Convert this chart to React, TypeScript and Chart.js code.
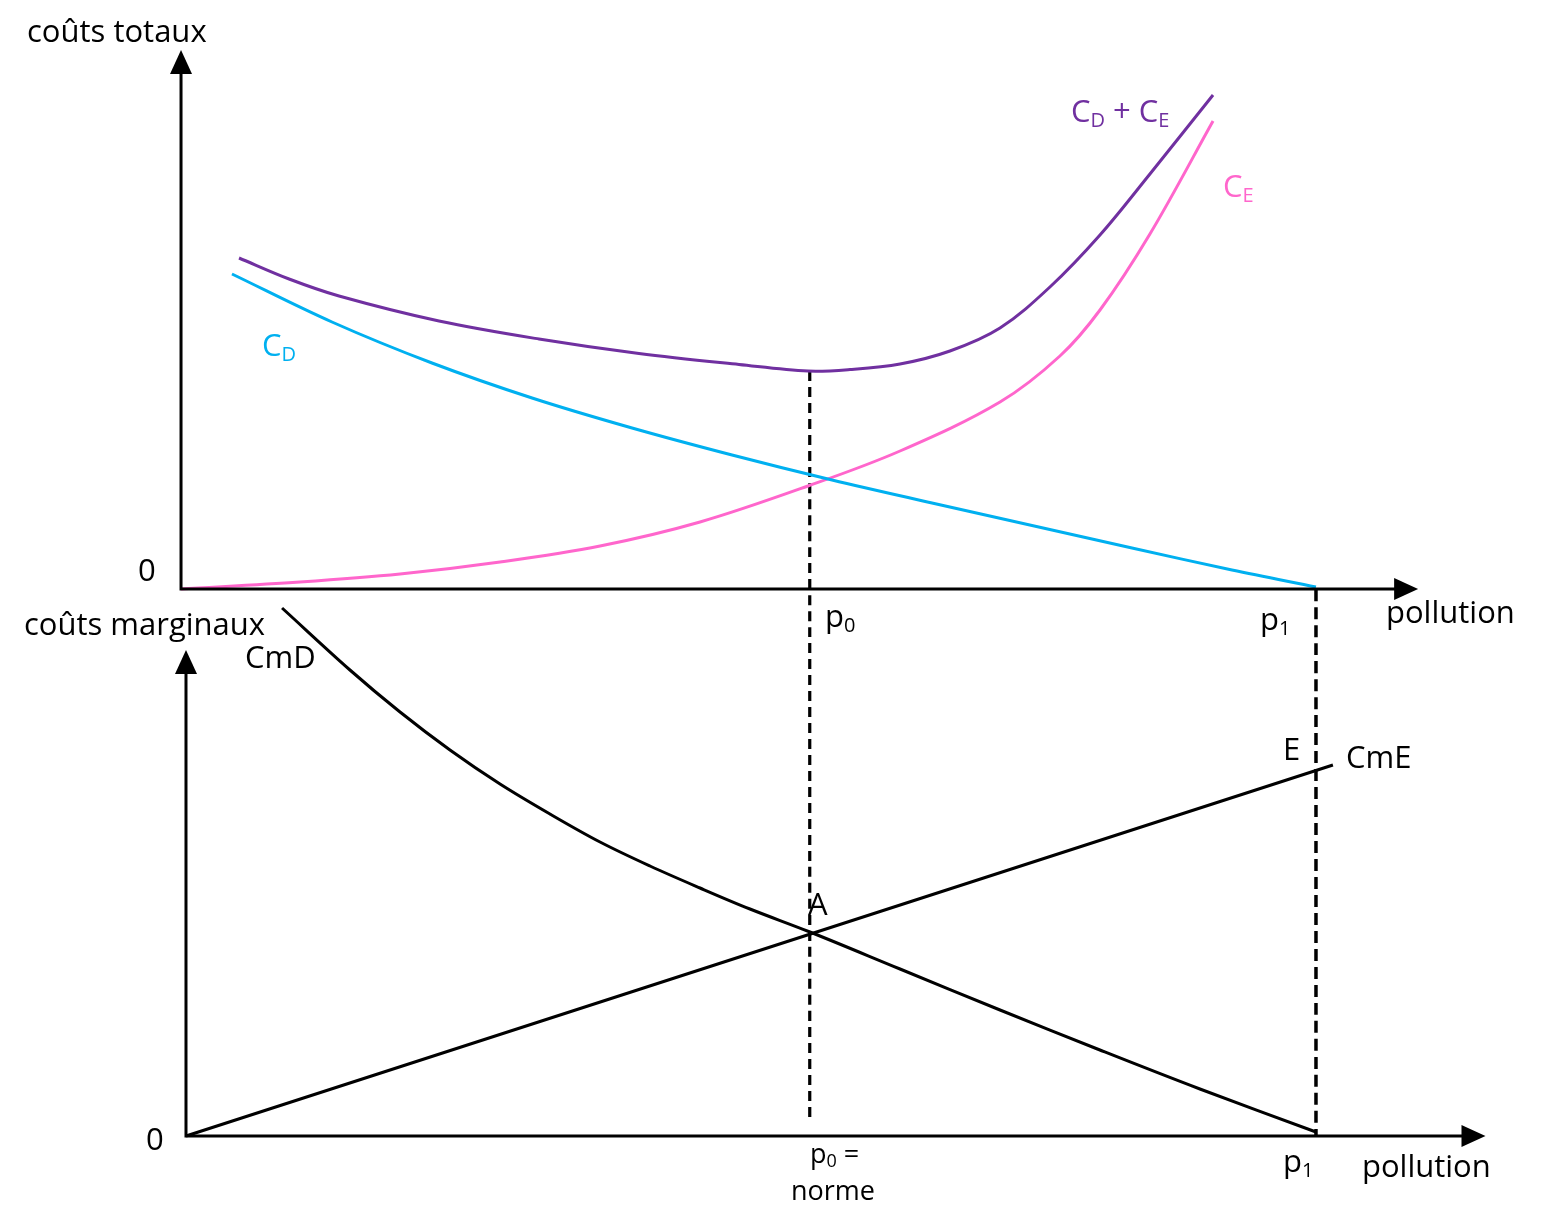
import React, { useEffect, useRef } from "react";
import { Chart, registerables } from "chart.js";

Chart.register(...registerables);

const FONT = '"Open Sans", "Noto Sans", "DejaVu Sans", sans-serif';

// ---------- Top panel: total costs (pollution in units where p1 = 10) ----------
const P0 = 5.52;
const P1 = 10;

const cdX = [0.449, 1.33, 2.211, 3.093, 3.974, 4.855, 5.736, 6.617, 7.498, 8.379, 9.26, 10];
const cdY = [6.3, 5.34, 4.52, 3.82, 3.22, 2.68, 2.18, 1.72, 1.27, 0.82, 0.38, 0.04];

const ceX = [0, 1.048, 1.93, 2.811, 3.692, 4.573, 5.524, 6.335, 7.216, 7.744, 8.097, 8.537, 9.093];
const ceY = [0, 0.14, 0.3, 0.54, 0.86, 1.34, 2.06, 2.76, 3.74, 4.66, 5.58, 7.1, 9.36];

const totX = [0.511, 0.952, 1.392, 2.273, 3.154, 4.035, 4.916, 5.524, 5.894, 6.335, 6.775, 7.216, 7.656, 8.097, 8.537, 9.093];
const totY = [6.62, 6.2, 5.86, 5.36, 5.0, 4.71, 4.49, 4.36, 4.39, 4.5, 4.76, 5.22, 6.04, 7.08, 8.3, 9.88];

// ---------- Bottom panel: marginal costs ----------
const cmeX = [0, 10.15];
const cmeY = [0, 7.42];

const cmdX = [0.85, 1.451, 1.894, 2.336, 2.779, 3.221, 3.664, 4.106, 4.549, 4.991, 5.522, 6.319, 7.204, 8.088, 8.973, 10];
const cmdY = [10.56, 9.32, 8.48, 7.72, 7.04, 6.44, 5.88, 5.4, 4.96, 4.54, 4.08, 3.34, 2.52, 1.72, 0.94, 0.08];

// dashed guides (bottom-panel units; they reach up into the top panel)
const guideP0Y = [15.3, 0.28];
const guideP1Y = [10.94, 0];

const PURPLE = "#7030A0";
const PINK = "#FF66CC";
const BLUE = "#00B0F0";
const BLACK = "#000000";

type Part = [string, boolean];
type Label = { parts: Part[]; x: number; y: number; color: string; size: number };

const topLabels: Label[] = [
  { parts: [["coûts totaux", false]], x: -1.357, y: 10.94, color: BLACK, size: 31 },
  { parts: [["0", false]], x: -0.379, y: 0.16, color: BLACK, size: 31 },
  { parts: [["C", false], ["D", true]], x: 0.714, y: 4.66, color: BLUE, size: 31 },
  { parts: [["C", false], ["D", true], [" + C", false], ["E", true]], x: 7.841, y: 9.34, color: PURPLE, size: 31 },
  { parts: [["C", false], ["E", true]], x: 9.181, y: 7.84, color: PINK, size: 31 },
  { parts: [["p", false], ["0", true]], x: 5.674, y: -0.76, color: BLACK, size: 31 },
  { parts: [["p", false], ["1", true]], x: 9.507, y: -0.82, color: BLACK, size: 31 },
  { parts: [["pollution", false]], x: 10.617, y: -0.68, color: BLACK, size: 31 },
];

const bottomLabels: Label[] = [
  { parts: [["coûts marginaux", false]], x: -1.434, y: 10.02, color: BLACK, size: 31 },
  { parts: [["CmD", false]], x: 0.522, y: 9.36, color: BLACK, size: 31 },
  { parts: [["E", false]], x: 9.708, y: 7.52, color: BLACK, size: 31 },
  { parts: [["CmE", false]], x: 10.265, y: 7.36, color: BLACK, size: 31 },
  { parts: [["A", false]], x: 5.504, y: 4.42, color: BLACK, size: 31 },
  { parts: [["0", false]], x: -0.354, y: -0.28, color: BLACK, size: 31 },
  { parts: [["p", false], ["0", true], [" =", false]], x: 5.522, y: -0.54, color: BLACK, size: 27 },
  { parts: [["norme", false]], x: 5.354, y: -1.28, color: BLACK, size: 27 },
  { parts: [["p", false], ["1", true]], x: 9.708, y: -0.72, color: BLACK, size: 31 },
  { parts: [["pollution", false]], x: 10.407, y: -0.82, color: BLACK, size: 31 },
];

const zip = (xs: number[], ys: number[]) => xs.map((x, i) => ({ x, y: ys[i] }));

function curve(xs: number[], ys: number[], color: string, dash: number[] = [], width = 3) {
  return {
    data: zip(xs, ys),
    borderColor: color,
    borderWidth: width,
    borderDash: dash,
    pointRadius: 0,
    fill: false,
    tension: 0.35,
    borderCapStyle: "butt" as const,
    borderJoinStyle: "round" as const,
  };
}

function makeDiagramPlugin(axes: { xEnd: number; yEnd: number }, labels: Label[]) {
  return {
    id: "diagram",
    afterDatasetsDraw(chart: any) {
      const ctx: CanvasRenderingContext2D = chart.ctx;
      const xs = chart.scales.x;
      const ys = chart.scales.y;
      const ox = xs.getPixelForValue(0);
      const oy = ys.getPixelForValue(0);
      const tx = xs.getPixelForValue(axes.xEnd);
      const ty = ys.getPixelForValue(axes.yEnd);
      const head = 24;
      const half = 11;
      ctx.save();
      ctx.strokeStyle = BLACK;
      ctx.fillStyle = BLACK;
      ctx.lineWidth = 3;
      ctx.beginPath();
      ctx.moveTo(ox - 1.5, oy);
      ctx.lineTo(tx - head + 2, oy);
      ctx.moveTo(ox, oy + 1.5);
      ctx.lineTo(ox, ty + head - 2);
      ctx.stroke();
      ctx.beginPath();
      ctx.moveTo(tx, oy);
      ctx.lineTo(tx - head, oy - half);
      ctx.lineTo(tx - head, oy + half);
      ctx.closePath();
      ctx.fill();
      ctx.beginPath();
      ctx.moveTo(ox, ty);
      ctx.lineTo(ox - half, ty + head);
      ctx.lineTo(ox + half, ty + head);
      ctx.closePath();
      ctx.fill();

      ctx.textAlign = "left";
      ctx.textBaseline = "alphabetic";
      for (const lab of labels) {
        let px = xs.getPixelForValue(lab.x);
        const py = ys.getPixelForValue(lab.y);
        ctx.fillStyle = lab.color;
        for (const [t, sub] of lab.parts) {
          const size = sub ? Math.round(lab.size * 0.66) : lab.size;
          ctx.font = `${size}px ${FONT}`;
          ctx.fillText(t, px, py + (sub ? lab.size * 0.16 : 0));
          px += ctx.measureText(t).width;
        }
      }
      ctx.restore();
    },
  };
}

function baseOptions(xmin: number, xmax: number, ymin: number, ymax: number) {
  return {
    responsive: false,
    animation: false as const,
    layout: { padding: 0 },
    events: [],
    plugins: { legend: { display: false }, tooltip: { enabled: false } },
    scales: {
      x: { type: "linear" as const, min: xmin, max: xmax, display: false },
      y: { type: "linear" as const, min: ymin, max: ymax, display: false },
    },
  };
}

export default function App() {
  const topRef = useRef<HTMLCanvasElement>(null);
  const botRef = useRef<HTMLCanvasElement>(null);

  useEffect(() => {
    document.body.style.margin = "0";
    const top = new Chart(topRef.current as HTMLCanvasElement, {
      type: "line",
      data: {
        datasets: [
          curve(cdX, cdY, BLUE),
          curve(ceX, ceY, PINK),
          curve(totX, totY, PURPLE),
        ] as any,
      },
      options: baseOptions(-1.595, 12.062, -12.58, 11.78) as any,
      plugins: [makeDiagramPlugin({ xEnd: 10.9, yEnd: 10.78 }, topLabels)],
    });
    const bot = new Chart(botRef.current as HTMLCanvasElement, {
      type: "line",
      data: {
        datasets: [
          curve(cmeX, cmeY, BLACK),
          curve(cmdX, cmdY, BLACK),
          curve([P0, P0], guideP0Y, BLACK, [10, 6], 3.2),
          curve([P1, P1], guideP1Y, BLACK, [12, 6], 3.5),
        ] as any,
      },
      options: baseOptions(-1.646, 12.071, -1.64, 22.72) as any,
      plugins: [makeDiagramPlugin({ xEnd: 11.5, yEnd: 9.72 }, bottomLabels)],
    });
    return () => {
      top.destroy();
      bot.destroy();
    };
  }, []);

  return (
    <div style={{ position: "relative", width: 1550, height: 1218, background: "#fff", overflow: "hidden" }}>
      <canvas ref={botRef} width={1550} height={1218} style={{ position: "absolute", left: 0, top: 0 }} />
      <canvas ref={topRef} width={1550} height={1218} style={{ position: "absolute", left: 0, top: 0 }} />
    </div>
  );
}
